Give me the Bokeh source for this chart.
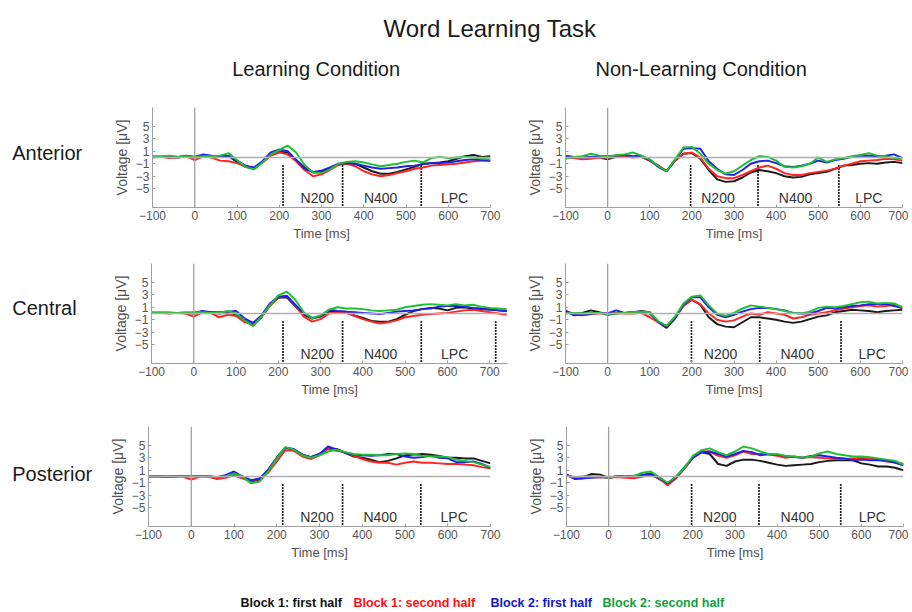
from bokeh.plotting import figure
from bokeh.layouts import column, row
from bokeh.models import Label, Span, FixedTicker, Range1d
from bokeh.embed import file_html
from bokeh.resources import INLINE
from bokeh.core.properties import value

FONT = "Liberation Sans"

# ---------------- data ----------------
TIME = list(range(-100, 720, 20))          # -100 .. 700 ms
TIME_CL = list(range(-100, 760, 20))       # -100 .. 740 ms (central, learning)

SERIES = ["Block 1: first half", "Block 1: second half", "Block 2: first half", "Block 2: second half"]
X_TICKS = [-100, 0, 100, 200, 300, 400, 500, 600, 700]
Y_TICKS = [5, 3, 1, -1, -3, -5]
REGIONS = ["N200", "N400", "LPC"]
ROWS = ["Anterior", "Central", "Posterior"]
CONDITIONS = ["Learning Condition", "Non-Learning Condition"]
TITLE = "Word Learning Task"

# Anterior - Learning
AL_K = [0.1,0.1,0.2,0.1,0.3,0.1,0.3,0.2,0.1,0.2,-0.7,-1.5,-1.8,-0.8,0.4,0.9,0.8,-0.4,-1.6,-2.4,-2.3,-1.8,-1.1,-0.9,-1.0,-1.6,-2.2,-2.6,-2.6,-2.3,-1.9,-1.5,-1.0,-0.9,-0.8,-0.6,-0.2,0.2,0.4,0.1,0.2]
AL_R = [0.1,0.1,-0.1,0,0.2,-0.4,0.2,0,-0.5,-0.6,-0.9,-1.4,-1.8,-0.8,0.3,0.8,0.5,-0.6,-2.0,-3.0,-2.7,-2.0,-1.2,-1.0,-1.4,-2.2,-2.7,-3.0,-2.8,-2.5,-2.2,-1.8,-1.6,-1.3,-1.2,-1.1,-1.0,-0.8,-0.6,-0.5,-0.5]
AL_B = [0,0.1,0.1,0,0.2,0.1,0.5,0.3,0.2,0.3,-0.5,-1.3,-1.6,-0.6,0.8,1.3,1.0,-0.4,-1.8,-2.3,-2.1,-1.6,-1.0,-0.9,-1.0,-1.3,-1.6,-1.8,-1.7,-1.6,-1.4,-1.3,-1.1,-0.9,-0.9,-0.8,-0.6,-0.4,-0.3,-0.4,-0.5]
AL_G = [0.2,0.2,0.3,0.1,0.2,0.1,0.2,0.2,0.3,0.7,-0.4,-1.5,-1.9,-0.8,0.5,1.2,1.9,0.8,-1.2,-2.4,-2.5,-1.9,-1.0,-0.7,-0.6,-0.8,-1.1,-1.4,-1.2,-1.0,-0.7,-0.5,-0.8,-0.1,0.1,-0.1,0.0,0.1,0.0,-0.2,-0.3]

# Anterior - Non-Learning
AN_K = [0,0,0.1,0.1,0,-0.3,0.1,0.2,0.1,0.1,-0.5,-1.3,-2.2,-0.5,0.6,0.7,-0.2,-2.0,-3.5,-3.9,-3.8,-3.2,-2.4,-2.0,-2.2,-2.5,-3.0,-3.2,-3.1,-2.7,-2.5,-2.3,-1.8,-1.3,-1.2,-1.0,-0.9,-1.0,-0.8,-0.7,-0.9]
AN_R = [0,-0.1,-0.3,-0.2,0,0,0.1,0.2,0,0.1,-0.5,-1.3,-2.2,-0.5,0.6,0.8,0,-1.8,-3.0,-3.3,-3.3,-2.8,-2.2,-1.6,-1.3,-1.8,-2.5,-2.8,-2.8,-2.5,-2.3,-2.1,-1.8,-1.3,-1.0,-0.6,-0.5,-0.4,-0.2,-0.3,-0.5]
AN_B = [0.3,0.1,0,0.1,0.2,0.2,0.3,0.4,0.2,0.3,-0.4,-1.5,-2.2,-0.4,1.4,1.5,1.4,-0.6,-1.8,-2.7,-2.8,-2.0,-1.0,-0.6,-0.5,-0.9,-1.4,-1.5,-1.3,-1.0,-0.5,-0.8,-0.4,-0.2,0.1,0.3,0.3,0.2,0.3,0.5,-0.1]
AN_G = [-0.2,0.1,0.2,0.6,0.3,0.1,0.4,0.5,0.8,0.3,-0.3,-1.4,-2.2,-0.3,1.6,1.7,0.6,-1.0,-2.0,-2.6,-2.2,-1.3,-0.4,0.2,0.1,-0.5,-1.5,-1.6,-1.4,-1.0,0.0,-0.7,-0.3,-0.1,0.2,0.4,0.7,0.3,0.2,-0.1,-0.2]

# Central - Learning (to 740 ms)
CL_K = [0.1,0.1,0.1,0.1,0.1,0.0,0.1,0.2,0.0,0.2,-0.2,-1.2,-1.9,-0.6,1.3,2.5,2.6,1.2,-0.2,-0.8,-0.5,0.3,0.3,0.3,-0.3,-0.7,-1.2,-1.3,-1.3,-0.9,-0.2,0.4,0.7,0.9,0.8,0.5,0.9,1.0,0.8,0.7,0.7,0.5,0.4]
CL_R = [0.1,0.1,0.0,0.1,0.0,-0.5,0.2,0.1,-0.6,-0.2,-0.4,-1.4,-1.7,-0.6,1.2,2.6,2.8,1.3,-0.5,-1.3,-0.9,0.0,0.2,0.1,-0.4,-0.9,-1.3,-1.6,-1.4,-1.1,-0.6,-0.4,-0.2,-0.1,0.0,0.1,0.3,0.5,0.6,0.4,0.2,0.0,-0.2]
CL_B = [0.1,0.1,0.1,0.1,0.1,0.1,0.4,0.2,0.2,0.3,0.4,-0.8,-1.5,-0.3,1.6,2.7,2.8,1.4,0.0,-0.7,-0.4,0.6,0.4,0.3,0.2,0.1,0.0,-0.1,0.1,0.3,0.4,0.5,0.7,0.8,1.1,1.2,1.2,1.1,0.9,0.8,0.6,0.5,0.4]
CL_G = [0.2,0.2,0.2,0.1,0.2,0.2,0.2,0.1,0.1,0.4,0.0,-1.1,-2.0,-0.5,1.3,2.9,3.5,2.2,0.2,-0.8,-0.3,0.6,1.0,0.8,0.8,0.7,0.5,0.4,0.5,0.6,1.0,1.2,1.4,1.5,1.4,1.3,1.5,1.3,1.4,1.1,0.9,0.8,0.7]

# Central - Non-Learning
CN_K = [0.3,0.0,0.1,0.5,0.2,-0.2,0.0,0.1,0.2,0.4,0.2,-1.4,-2.3,-0.8,1.3,2.2,1.4,-0.6,-1.7,-2.1,-2.2,-1.4,-0.6,-0.6,-0.8,-1.0,-1.3,-1.5,-1.3,-0.9,-0.5,-0.3,0.2,0.4,0.6,0.5,0.4,0.2,0.4,0.5,0.6]
CN_R = [0.3,-0.2,-0.3,-0.1,0.0,0.0,0.1,0.0,0.0,0.1,-0.6,-1.4,-2.0,-0.6,1.2,2.2,1.5,0.0,-1.0,-1.3,-1.1,-0.5,0.0,-0.2,0.2,0.0,-0.2,-0.8,-0.6,-0.2,0.0,0.2,0.5,0.8,1.0,1.2,1.3,1.1,1.2,1.4,0.8]
CN_B = [0.5,-0.3,-0.2,-0.1,0.1,0.0,0.5,0.1,0.2,0.3,0.0,-1.3,-2.1,-0.6,1.4,2.6,2.6,1.0,-0.2,-0.6,-0.2,0.3,0.7,0.9,0.9,0.7,0.5,0.1,0.0,0.0,0.4,0.9,0.8,1.0,1.2,1.3,1.5,1.5,1.5,1.2,0.9]
CN_G = [0.0,0.1,0.0,0.1,0.1,-0.1,0.0,0.1,0.2,0.3,0.2,-1.2,-2.0,-0.5,1.6,2.7,2.9,1.3,0.0,-0.4,0.1,0.8,1.3,1.1,0.9,0.7,0.4,0.1,0.0,0.3,0.9,1.1,1.0,1.2,1.5,1.8,1.9,1.6,1.7,1.6,1.0]

# Posterior - Learning
PL_K = [0.0,0.1,0.1,0.0,0.1,0.1,0.1,0.0,-0.3,-0.1,0.5,-0.2,-0.8,-0.5,1.0,3.0,4.6,4.3,3.5,3.1,3.6,4.5,4.4,3.8,3.2,3.0,2.7,2.3,2.5,2.9,3.4,3.5,3.6,3.5,3.3,3.0,3.0,2.9,2.9,2.5,2.1]
PL_R = [0.0,0.0,-0.1,0.0,0.0,-0.5,0.0,0.0,-0.4,-0.2,0.2,-0.3,-0.8,-0.3,0.6,2.4,4.2,4.1,3.2,2.8,3.4,4.4,4.1,3.9,3.3,2.8,2.4,2.2,2.2,1.9,2.2,2.4,2.2,2.2,2.1,2.0,2.0,1.9,1.8,1.5,1.3]
PL_B = [0.0,0.0,0.0,0.0,0.1,0.1,0.1,0.1,-0.1,0.2,0.8,0.0,-0.6,-0.3,1.1,3.0,4.6,4.4,3.5,3.1,3.6,4.8,4.3,3.8,3.5,3.4,3.3,3.4,3.6,3.6,3.2,3.0,3.1,3.3,3.0,2.9,2.3,2.3,2.4,2.0,1.4]
PL_G = [0.0,0.0,0.1,0.0,0.0,0.0,0.0,0.0,-0.1,0.0,0.5,0.0,-1.1,-0.8,0.8,2.9,4.7,4.3,3.4,3.0,3.4,4.0,4.3,3.9,3.6,3.5,3.5,3.4,3.4,3.6,3.7,3.6,3.3,3.2,3.2,3.1,2.7,2.5,2.3,1.9,1.5]

# Posterior - Non-Learning
PN_K = [0.2,-0.2,-0.1,0.4,0.3,-0.2,0.0,0.0,0.1,0.2,0.5,-0.4,-1.1,-0.2,1.3,3.0,3.9,3.6,2.0,1.7,2.4,2.7,2.7,2.5,2.2,1.9,1.7,1.8,1.9,2.0,2.3,2.5,2.6,2.6,2.6,2.1,1.9,1.6,1.6,1.4,1.0]
PN_R = [0.3,-0.3,-0.3,-0.1,-0.1,-0.2,-0.1,-0.2,-0.3,0.0,0.2,-0.3,-1.4,-0.3,1.3,3.0,4.0,4.0,3.3,3.0,3.4,4.0,3.6,3.6,3.5,3.3,3.0,3.2,3.0,3.1,3.0,2.9,2.8,2.8,2.9,3.0,2.9,2.7,2.4,2.3,2.0]
PN_B = [0.3,-0.4,-0.3,-0.2,-0.1,-0.2,0.1,0.0,0.0,0.3,0.4,-0.2,-1.1,-0.1,1.5,3.0,3.8,4.0,3.6,3.2,3.6,4.1,3.9,3.4,3.6,3.5,3.3,3.1,3.0,3.3,3.4,3.2,3.0,2.9,2.6,2.7,2.6,2.6,2.5,2.2,1.8]
PN_G = [0.1,-0.1,0.0,0.0,0.0,-0.2,0.0,-0.1,0.1,0.6,0.8,-0.1,-1.0,0.0,1.4,3.3,4.2,4.5,3.9,3.4,4.0,4.8,4.5,4.0,3.6,3.6,3.3,3.2,3.0,3.2,3.7,4.0,3.6,3.4,3.2,3.2,3.1,2.9,2.7,2.5,1.9]

# window boundaries (ms) and window label centres (ms)
AL_BOUNDS = [209, 350, 536, 712]
AN_BOUNDS = [197, 357, 549, 705]
CL_BOUNDS = [211, 352, 538, 714]
CN_BOUNDS = [199, 361, 554, 711]
PL_BOUNDS = [214, 354, 537, 711]
PN_BOUNDS = [197, 357, 551, 707]
AL_LABX = [290, 440, 615]
AN_LABX = [262, 446, 620]
CL_LABX = [292, 442, 617]
CN_LABX = [268, 450, 628]
PL_LABX = [294, 442, 615]
PN_LABX = [264, 448, 626]

CURVE_COLORS = ["#1a1a1a", "#ff2424", "#2020e8", "#1fbf33"]
LEGEND_COLORS = ["#111111", "#ff1010", "#1414c8", "#0f9f3f"]


def blank(w, h):
    p = figure(width=w, height=h, x_range=Range1d(0, w), y_range=Range1d(0, h),
               x_axis_location=None, y_axis_location=None, min_border=0,
               output_backend="svg", toolbar_location=None)
    p.grid.visible = False
    p.outline_line_color = None
    return p


def panel(time, series, bounds, labx, xmax, fw, bl, br, bt, bb):
    p = figure(frame_width=fw, frame_height=100, min_border_left=bl, min_border_right=br,
               min_border_top=bt, min_border_bottom=bb,
               x_range=Range1d(-100, xmax), y_range=Range1d(-8, 8),
               output_backend="svg", toolbar_location=None)
    p.grid.visible = False
    p.outline_line_color = None
    p.xaxis.ticker = FixedTicker(ticks=X_TICKS)
    p.yaxis.ticker = FixedTicker(ticks=Y_TICKS)
    p.xaxis.axis_label = "Time [ms]"
    p.yaxis.axis_label = "Voltage [\u03bcV]"
    for ax in p.axis:
        ax.axis_line_color = "#a0a0a0"
        ax.major_tick_line_color = "#a0a0a0"
        ax.major_tick_in = 3
        ax.major_tick_out = 0
        ax.minor_tick_in = 0
        ax.minor_tick_out = 0
        ax.major_label_text_font = FONT
        ax.major_label_text_font_size = "12px"
        ax.major_label_text_color = "#555555"
        ax.major_label_standoff = 3
        ax.axis_label_text_font = FONT
        ax.axis_label_text_font_style = "normal"
        ax.axis_label_text_color = "#505050"
        ax.axis_label_standoff = 3
    p.xaxis.axis_label_text_font_size = "13px"
    p.yaxis.axis_label_text_font_size = "14px"
    p.add_layout(Span(location=0, dimension="width", line_color="#b0b0b0", line_width=1.3))
    p.add_layout(Span(location=0, dimension="height", line_color="#a0a0a0", line_width=1.3))
    n = len(bounds)
    p.segment(x0=bounds, y0=[-1.2] * n, x1=bounds, y1=[-8] * n,
              line_color="#222222", line_width=1.7, line_dash="2 1")
    p.text(x=labx, y=[-6.5] * len(labx), text=REGIONS, text_align="center",
           text_baseline="middle", text_font=value(FONT), text_font_size="14px",
           text_color="#333333")
    for vals, col in zip(series, CURVE_COLORS):
        p.line(time, vals, line_color=col, line_width=2)
    return p


# header (page y 0..85)
header = blank(908, 85)
header.add_layout(Label(x=383, y=56.7, text=TITLE, text_font=FONT, text_font_size="24px",
                        text_color="#1a1a1a", text_align="left", text_baseline="alphabetic"))
header.add_layout(Label(x=231.7, y=16.7, text=CONDITIONS[0], text_font=FONT, text_font_size="20px",
                        text_color="#1a1a1a", text_align="left", text_baseline="alphabetic"))
header.add_layout(Label(x=595, y=16.7, text=CONDITIONS[1], text_font=FONT, text_font_size="20px",
                        text_color="#1a1a1a", text_align="left", text_baseline="alphabetic"))


def row_label(text, h, base):
    f = blank(100, h)
    f.add_layout(Label(x=11.7, y=base, text=text, text_font=FONT, text_font_size="20px",
                       text_color="#1a1a1a", text_align="left", text_baseline="alphabetic"))
    return f


r1 = row(row_label(ROWS[0], 160, 85),
         panel(TIME, [AL_K, AL_R, AL_B, AL_G], AL_BOUNDS, AL_LABX, 700, 338, 52, 30, 20, 40),
         panel(TIME, [AN_K, AN_R, AN_B, AN_G], AN_BOUNDS, AN_LABX, 700, 337, 45, 6, 22, 38))
r2 = row(row_label(ROWS[1], 163, 89),
         panel(TIME_CL, [CL_K, CL_R, CL_B, CL_G], CL_BOUNDS, CL_LABX, 742, 356, 51, 13, 17, 46),
         panel(TIME, [CN_K, CN_R, CN_B, CN_G], CN_BOUNDS, CN_LABX, 700, 337, 45, 6, 18, 45))
r3 = row(row_label(ROWS[2], 170, 88),
         panel(TIME, [PL_K, PL_R, PL_B, PL_G], PL_BOUNDS, PL_LABX, 700, 342, 48, 30, 16, 54),
         panel(TIME, [PN_K, PN_R, PN_B, PN_G], PN_BOUNDS, PN_LABX, 700, 337, 46, 5, 18, 52))

legend = blank(908, 30)
LEG_X = [240, 353, 490, 602]
for name, col, lx in zip(SERIES, LEGEND_COLORS, LEG_X):
    legend.add_layout(Label(x=lx, y=6, text=name, text_font=FONT, text_font_size="12.5px",
                            text_font_style="bold", text_color=col, text_align="left",
                            text_baseline="middle"))

layout = column(header, r1, r2, r3, legend)
open("out.html", "w").write(file_html(layout, INLINE))
